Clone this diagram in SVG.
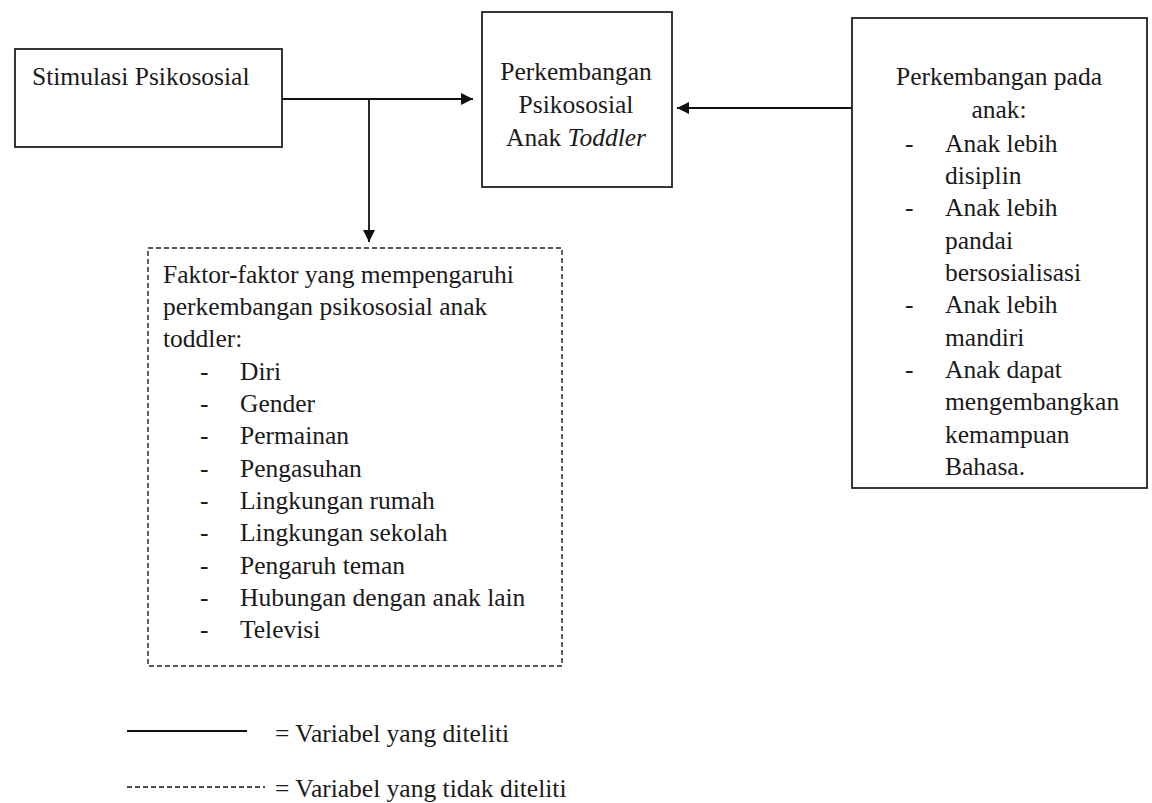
<svg xmlns="http://www.w3.org/2000/svg" width="1152" height="803" viewBox="0 0 1152 803">
<style>
.box{fill:#fff;stroke:#222;stroke-width:1.8}
.dbox{fill:#fff;stroke:#222;stroke-width:1.4;stroke-dasharray:5,3}
.ln{stroke:#111;stroke-width:1.8;fill:none}
</style>
<defs>
<marker id="ah" viewBox="0 0 10 10" refX="10" refY="5" markerWidth="12" markerHeight="12" markerUnits="userSpaceOnUse" orient="auto">
<path d="M0,0 L10,5 L0,10 z" fill="#111"/>
</marker>
</defs>
<rect width="1152" height="803" fill="#fff"/>
<g id="connectors">
<line class="ln" x1="282" y1="99" x2="473" y2="99" marker-end="url(#ah)"/>
<line class="ln" x1="369" y1="99" x2="369" y2="242" marker-end="url(#ah)"/>
<line class="ln" x1="852" y1="108" x2="677" y2="108" marker-end="url(#ah)"/>
</g>
<g id="stimulasi">
<rect class="box" x="15" y="49" width="267" height="98"/>
<text x="32" y="85" font-family="Liberation Serif" font-size="25.5" fill="#1a1a1a">Stimulasi Psikososial</text>
</g>
<g id="perkembangan">
<rect class="box" x="482" y="12" width="190" height="175"/>
<text x="576" y="80" text-anchor="middle" font-family="Liberation Serif" font-size="25.5" fill="#1a1a1a">Perkembangan</text>
<text x="576" y="113" text-anchor="middle" font-family="Liberation Serif" font-size="25.5" fill="#1a1a1a">Psikososial</text>
<text x="576" y="146" text-anchor="middle" font-family="Liberation Serif" font-size="25.5" fill="#1a1a1a">Anak <tspan font-style="italic">Toddler</tspan></text>
</g>
<g id="perkembangan-anak" font-family="Liberation Serif" font-size="25.5" fill="#1a1a1a">
<rect class="box" x="852" y="18" width="295" height="470"/>
<text x="999" y="85" text-anchor="middle">Perkembangan pada</text>
<text x="999" y="118" text-anchor="middle">anak:</text>
<text x="905" y="152">-</text><text x="945" y="152">Anak lebih</text>
<text x="945" y="184">disiplin</text>
<text x="905" y="216">-</text><text x="945" y="216">Anak lebih</text>
<text x="945" y="249">pandai</text>
<text x="945" y="281">bersosialisasi</text>
<text x="905" y="313">-</text><text x="945" y="313">Anak lebih</text>
<text x="945" y="346">mandiri</text>
<text x="905" y="378">-</text><text x="945" y="378">Anak dapat</text>
<text x="945" y="410">mengembangkan</text>
<text x="945" y="443">kemampuan</text>
<text x="945" y="475">Bahasa.</text>
</g>
<g id="faktor" font-family="Liberation Serif" font-size="25.5" fill="#1a1a1a">
<rect class="dbox" x="148" y="248" width="414" height="418"/>
<text x="163" y="283">Faktor-faktor yang mempengaruhi</text>
<text x="163" y="315">perkembangan psikososial anak</text>
<text x="163" y="347">toddler:</text>
<text x="200" y="380">-</text><text x="240" y="380">Diri</text>
<text x="200" y="412">-</text><text x="240" y="412">Gender</text>
<text x="200" y="444">-</text><text x="240" y="444">Permainan</text>
<text x="200" y="477">-</text><text x="240" y="477">Pengasuhan</text>
<text x="200" y="509">-</text><text x="240" y="509">Lingkungan rumah</text>
<text x="200" y="541">-</text><text x="240" y="541">Lingkungan sekolah</text>
<text x="200" y="574">-</text><text x="240" y="574">Pengaruh teman</text>
<text x="200" y="606">-</text><text x="240" y="606">Hubungan dengan anak lain</text>
<text x="200" y="638">-</text><text x="240" y="638">Televisi</text>
</g>
<g id="legend" font-family="Liberation Serif" font-size="25.5" fill="#1a1a1a">
<line class="ln" x1="127" y1="731" x2="247" y2="731"/>
<text x="275" y="742">= Variabel yang diteliti</text>
<line x1="127" y1="787" x2="265" y2="787" stroke="#111" stroke-width="1.4" stroke-dasharray="5,3"/>
<text x="275" y="797">= Variabel yang tidak diteliti</text>
</g>
</svg>
